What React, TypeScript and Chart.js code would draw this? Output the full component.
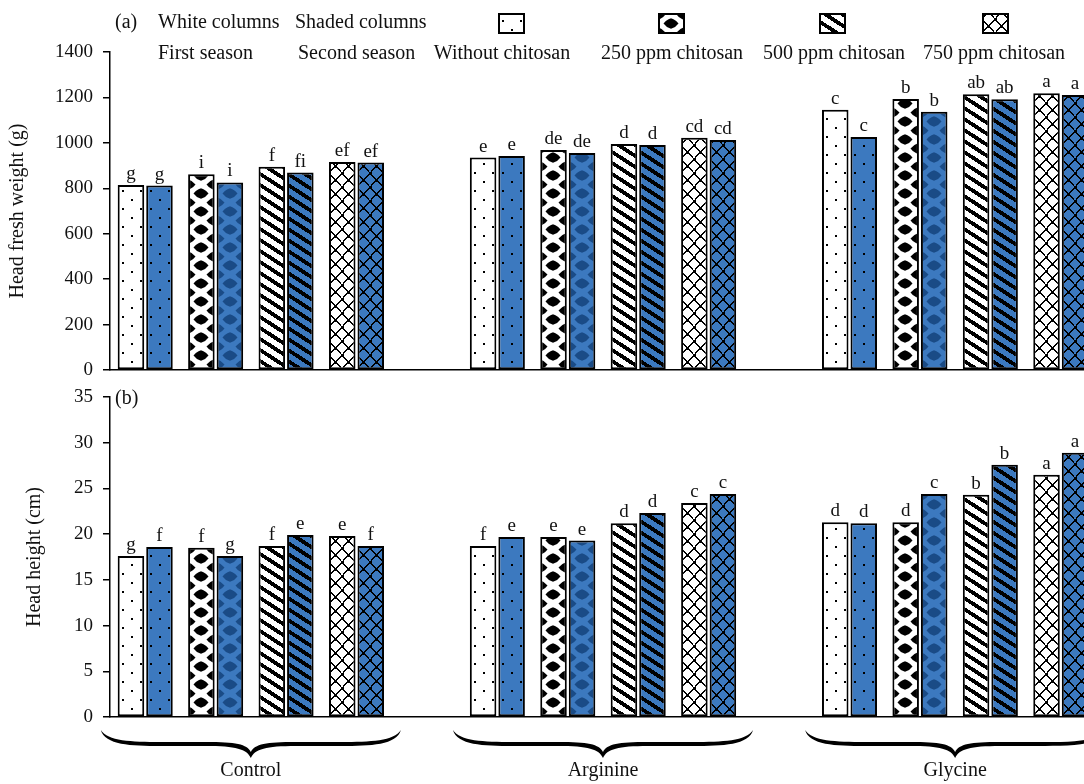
import React, { useEffect, useRef } from 'react';
import { Chart, registerables } from 'chart.js';

Chart.register(...registerables);

// ---------- data ----------
const groups = ['Control', 'Arginine', 'Glycine'];
const treatments = ['Without chitosan', '250 ppm chitosan', '500 ppm chitosan', '750 ppm chitosan'];
const seasons = ['First season', 'Second season'];
const columnNotes = ['White columns', 'Shaded columns'];

// Head fresh weight (g), order: Control T0..T3, Arginine T0..T3, Glycine T0..T3
const weightFirst = [815, 862, 895, 916, 935, 969, 995, 1023, 1146, 1193, 1214, 1218];
const weightSecond = [812, 826, 869, 913, 942, 955, 991, 1013, 1026, 1137, 1192, 1211];
const weightLettersFirst = ['g', 'i', 'f', 'ef', 'e', 'de', 'd', 'cd', 'c', 'b', 'ab', 'a'];
const weightLettersSecond = ['g', 'i', 'fi', 'ef', 'e', 'de', 'd', 'cd', 'c', 'b', 'ab', 'a'];
const weightMax = 1400;
const weightStep = 200;

// Head height (cm)
const heightFirst = [17.6, 18.5, 18.7, 19.8, 18.7, 19.7, 21.2, 23.4, 21.3, 21.3, 24.3, 26.5];
const heightSecond = [18.6, 17.6, 19.9, 18.7, 19.7, 19.3, 22.3, 24.4, 21.2, 24.4, 27.6, 28.9];
const heightLettersFirst = ['g', 'f', 'f', 'e', 'f', 'e', 'd', 'c', 'd', 'd', 'b', 'a'];
const heightLettersSecond = ['f', 'g', 'e', 'f', 'e', 'e', 'd', 'c', 'd', 'c', 'b', 'a'];
const heightMax = 35;
const heightStep = 5;

// ---------- styling ----------
const FONT = '"Liberation Serif", "Times New Roman", serif';
const BLUE = '#3c79bf';
const DARK = '#1a4b86';
const INK = '#111';

// expand 12 values into 14 category slots (one empty slot between groups)
function expand<T>(vals: T[]): (T | null)[] {
  const out: (T | null)[] = [];
  groups.forEach((_, gi) => {
    if (gi > 0) out.push(null);
    treatments.forEach((__, ti) => out.push(vals[gi * treatments.length + ti]));
  });
  return out;
}

const slotLabels = expand(groups.flatMap((g) => treatments.map((t) => g + ' / ' + t))).map(
  (l, i) => (l == null ? ' '.repeat(i) : l)
);
const slotKinds = expand(groups.flatMap(() => treatments.map((_, ti) => ti)));

function blob(x: CanvasRenderingContext2D, cx: number, cy: number, a: number, b: number) {
  const k = 0.68;
  x.beginPath();
  x.moveTo(cx, cy - b);
  x.quadraticCurveTo(cx + a * k, cy - b * k, cx + a, cy);
  x.quadraticCurveTo(cx + a * k, cy + b * k, cx, cy + b);
  x.quadraticCurveTo(cx - a * k, cy + b * k, cx - a, cy);
  x.quadraticCurveTo(cx - a * k, cy - b * k, cx, cy - b);
  x.fill();
}

function makeTile(kind: number, shaded: boolean): HTMLCanvasElement {
  const c = document.createElement('canvas');
  let w = 18;
  let h = 18;
  if (kind === 1) { w = 26; h = 18; }
  if (kind === 2) { w = 32; h = 44; }
  if (kind === 3) { w = 26; h = 14; }
  c.width = w;
  c.height = h;
  const x = c.getContext('2d')!;
  x.fillStyle = shaded ? BLUE : '#fff';
  x.fillRect(0, 0, w, h);
  x.fillStyle = '#000';
  if (kind === 0) {
    x.fillRect(4, 1, 2, 2);
    x.fillRect(13, 10, 2, 2);
  } else if (kind === 1) {
    x.fillStyle = shaded ? DARK : '#000';
    const centers = [[13, 4.5], [13, 22.5], [13, -13.5], [0, 13.5], [26, 13.5], [0, -4.5], [26, -4.5]];
    centers.forEach(([cx, cy]) => blob(x, cx, cy, 7.5, 5.3));
  } else if (kind === 2) {
    for (let py = 0; py < h; py++) {
      for (let px = 0; px < w; px++) {
        const v = (((py + 0.5 - 0.65 * (px + 0.5)) % 11) + 11) % 11;
        if (v < 4.5) x.fillRect(px, py, 1, 1);
      }
    }
  } else if (kind === 3) {
    const k = 6.5 / 7;
    for (let py = 0; py < h; py++) {
      for (let px = 0; px < w; px++) {
        const X = px + 0.5;
        const Y = py + 0.5;
        const v1 = (((X - Y * k) % 13) + 13) % 13;
        const v2 = (((X + Y * k) % 13) + 13) % 13;
        const d = Math.min(v1, 13 - v1, v2, 13 - v2);
        if (d < 0.85) x.fillRect(px, py, 1, 1);
      }
    }
    const knots = [[0, 0], [13, 0], [26, 0], [6.5, 7], [19.5, 7], [0, 14], [13, 14], [26, 14]];
    knots.forEach(([kx, ky]) => x.fillRect(Math.round(kx - 1.5), Math.round(ky - 1.5), 3, 3));
  }
  return c;
}

function makeDatasets(
  ctx: CanvasRenderingContext2D,
  first: number[],
  second: number[],
  lettersFirst: string[],
  lettersSecond: string[]
) {
  const mk = (vals: number[], letters: string[], shaded: boolean, label: string) => ({
    label,
    data: expand(vals),
    letters: expand(letters),
    backgroundColor: slotKinds.map((k) =>
      k == null ? 'rgba(0,0,0,0)' : (ctx.createPattern(makeTile(k, shaded), 'repeat') as any)
    ),
    borderColor: '#000',
    borderWidth: 2,
    borderSkipped: false,
    categoryPercentage: 0.81,
    barPercentage: 0.93,
  });
  return [mk(first, lettersFirst, false, seasons[0]), mk(second, lettersSecond, true, seasons[1])];
}

const patternAlign = {
  id: 'patternAlign',
  beforeDatasetsDraw(chart: any) {
    chart.data.datasets.forEach((_: any, di: number) => {
      const meta = chart.getDatasetMeta(di);
      meta.data.forEach((el: any) => {
        const bg = el.options && el.options.backgroundColor;
        if (bg && typeof bg.setTransform === 'function') {
          const left = Math.round(el.x - el.width / 2);
          bg.setTransform(new DOMMatrix().translate(left, Math.round(el.base)));
        }
      });
    });
  },
};

const letterLabels = {
  id: 'letterLabels',
  afterDatasetsDraw(chart: any) {
    const ctx = chart.ctx;
    ctx.save();
    ctx.font = '19px ' + FONT;
    ctx.fillStyle = INK;
    ctx.textAlign = 'center';
    ctx.textBaseline = 'alphabetic';
    chart.data.datasets.forEach((ds: any, di: number) => {
      const meta = chart.getDatasetMeta(di);
      meta.data.forEach((el: any, i: number) => {
        const t = ds.letters[i];
        if (!t || ds.data[i] == null) return;
        ctx.fillText(t, el.x, el.y - 6);
      });
    });
    ctx.restore();
  },
};

function yScale(max: number, step: number, title: string, titlePad: number) {
  return {
    min: 0,
    max,
    ticks: {
      stepSize: step,
      color: INK,
      font: { family: FONT, size: 19 },
      padding: 10,
      callback: (v: any) => String(v),
    },
    grid: { display: true, drawOnChartArea: false, drawTicks: true, tickLength: 7, color: '#000', lineWidth: 1.5 },
    border: { display: true, color: '#000', width: 1.5 },
    title: { display: true, text: title, color: INK, font: { family: FONT, size: 20 }, padding: { top: titlePad, bottom: 0 } },
    afterFit: (s: any) => {
      s.width = 110;
    },
  };
}

const xScale = {
  type: 'category',
  offset: true,
  grid: { display: false, drawTicks: false },
  ticks: { display: false },
  border: { display: true, color: '#000', width: 1.5 },
  afterFit: (s: any) => {
    s.height = 0;
  },
};

function baseOptions(padTop: number, padBottom: number, y: any) {
  return {
    responsive: false,
    devicePixelRatio: 1,
    animation: false,
    events: [],
    layout: { padding: { top: padTop, bottom: padBottom, left: 0, right: 0 } },
    plugins: { legend: { display: false }, tooltip: { enabled: false } },
    scales: { x: xScale, y },
  };
}

const legendPlugin = {
  id: 'topLegend',
  afterDraw(chart: any) {
    const ctx = chart.ctx as CanvasRenderingContext2D;
    ctx.save();
    ctx.font = '20px ' + FONT;
    ctx.fillStyle = INK;
    ctx.textBaseline = 'middle';
    ctx.textAlign = 'left';
    ctx.fillText('(a)', 115, 23);
    ctx.fillText(columnNotes[0], 158, 23);
    ctx.fillText(columnNotes[1], 295, 23);
    ctx.fillText(seasons[0], 158, 54);
    ctx.fillText(seasons[1], 298, 54);
    const textCenters = [502, 672, 834, 994];
    const swatchLeft = [498, 658, 819, 982];
    ctx.textAlign = 'center';
    treatments.forEach((t, i) => {
      ctx.fillStyle = INK;
      ctx.fillText(t, textCenters[i], 54);
      const sx = swatchLeft[i];
      const sy = 13;
      const pat = ctx.createPattern(makeTile(i, false), 'repeat')!;
      pat.setTransform(new DOMMatrix().translate(sx, sy + 6));
      ctx.fillStyle = pat;
      ctx.fillRect(sx, sy, 27, 21);
      ctx.strokeStyle = '#000';
      ctx.lineWidth = 2;
      ctx.strokeRect(sx + 1, sy + 1, 25, 19);
    });
    ctx.restore();
  },
};

function drawBrace(ctx: CanvasRenderingContext2D, cx: number, half: number, yTop: number, yArm: number, yTip: number) {
  const x0 = cx - half;
  const x1 = cx + half;
  ctx.beginPath();
  ctx.moveTo(x0, yTop);
  ctx.bezierCurveTo(x0 + 4, yArm + 1, x0 + 30, yArm + 2, x0 + 60, yArm + 2);
  ctx.lineTo(cx - 45, yArm + 2);
  ctx.bezierCurveTo(cx - 15, yArm + 2, cx - 4, yArm + 5, cx, yTip);
  ctx.bezierCurveTo(cx + 4, yArm + 5, cx + 15, yArm + 2, cx + 45, yArm + 2);
  ctx.lineTo(x1 - 60, yArm + 2);
  ctx.bezierCurveTo(x1 - 30, yArm + 2, x1 - 4, yArm + 1, x1, yTop);
  ctx.bezierCurveTo(x1 - 7, yArm - 3, x1 - 30, yArm - 2, x1 - 60, yArm - 2);
  ctx.lineTo(cx + 45, yArm - 2);
  ctx.bezierCurveTo(cx + 15, yArm - 2, cx + 4, yArm, cx, yTip - 6);
  ctx.bezierCurveTo(cx - 4, yArm, cx - 15, yArm - 2, cx - 45, yArm - 2);
  ctx.lineTo(x0 + 60, yArm - 2);
  ctx.bezierCurveTo(x0 + 30, yArm - 2, x0 + 7, yArm - 3, x0, yTop);
  ctx.closePath();
  ctx.fill();
}

// canvas B starts at page y = 360
const B_TOP = 360;

const bottomPlugin = {
  id: 'bottomDecor',
  afterDraw(chart: any) {
    const ctx = chart.ctx as CanvasRenderingContext2D;
    const xs = chart.scales.x;
    ctx.save();
    ctx.font = '20px ' + FONT;
    ctx.fillStyle = INK;
    ctx.textBaseline = 'middle';
    ctx.textAlign = 'left';
    ctx.fillText('(b)', 115, 399 - B_TOP);
    ctx.textAlign = 'center';
    groups.forEach((g, gi) => {
      const first = gi * (treatments.length + 1);
      const last = first + treatments.length - 1;
      const cx = (xs.getPixelForValue(first) + xs.getPixelForValue(last)) / 2;
      ctx.fillStyle = '#000';
      drawBrace(ctx, cx, 150, 730 - B_TOP, 744 - B_TOP, 758 - B_TOP);
      ctx.fillStyle = INK;
      ctx.fillText(g, cx, 771 - B_TOP);
    });
    ctx.restore();
  },
};

export default function App() {
  const refA = useRef<HTMLCanvasElement>(null);
  const refB = useRef<HTMLCanvasElement>(null);

  useEffect(() => {
    const ca = refA.current!;
    const cb = refB.current!;
    const ctxA = ca.getContext('2d')!;
    const ctxB = cb.getContext('2d')!;
    const chartA = new Chart(ca, {
      type: 'bar',
      data: {
        labels: slotLabels,
        datasets: makeDatasets(ctxA, weightFirst, weightSecond, weightLettersFirst, weightLettersSecond) as any,
      },
      options: baseOptions(52, 30, yScale(weightMax, weightStep, 'Head fresh weight (g)', 6)) as any,
      plugins: [patternAlign, letterLabels, legendPlugin],
    });
    const chartB = new Chart(cb, {
      type: 'bar',
      data: {
        labels: slotLabels,
        datasets: makeDatasets(ctxB, heightFirst, heightSecond, heightLettersFirst, heightLettersSecond) as any,
      },
      options: baseOptions(397 - B_TOP, 784 - 717, yScale(heightMax, heightStep, 'Head height (cm)', 23)) as any,
      plugins: [patternAlign, letterLabels, bottomPlugin],
    });
    return () => {
      chartA.destroy();
      chartB.destroy();
    };
  }, []);

  return (
    <div
      style={{
        position: 'fixed',
        left: 0,
        top: 0,
        width: 1084,
        height: 784,
        overflow: 'hidden',
        background: '#fff',
      }}
    >
      <canvas
        ref={refA}
        width={1096}
        height={400}
        style={{ position: 'absolute', left: 0, top: 0, width: 1096, height: 400 }}
      />
      <canvas
        ref={refB}
        width={1096}
        height={784 - B_TOP}
        style={{ position: 'absolute', left: 0, top: B_TOP, width: 1096, height: 784 - B_TOP }}
      />
    </div>
  );
}
